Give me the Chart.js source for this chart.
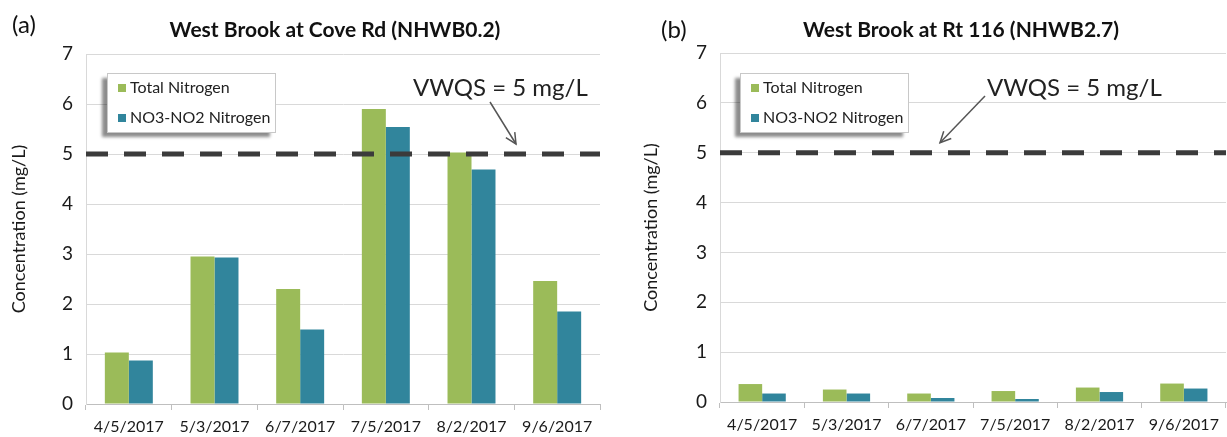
<!DOCTYPE html>
<html>
<head>
<meta charset="utf-8">
<script src="https://cdn.jsdelivr.net/npm/chart.js@4.4.1/dist/chart.umd.min.js"></script>
<style>
  html, body { margin: 0; padding: 0; background: #fff; }
  #wrap { position: relative; width: 1227px; height: 437px; }
  .panel { position: absolute; top: 0; height: 437px; }
  #pa { left: 0; width: 613px; }
  #pb { left: 613px; width: 614px; }
</style>
</head>
<body>
<div id="wrap">
  <div class="panel" id="pa"><canvas id="chartA"></canvas></div>
  <div class="panel" id="pb"><canvas id="chartB"></canvas></div>
</div>
<script>
const dates = ['4/5/2017', '5/3/2017', '6/7/2017', '7/5/2017', '8/2/2017', '9/6/2017'];
const seriesNames = ['Total Nitrogen', 'NO3-NO2 Nitrogen'];

// West Brook at Cove Rd (NHWB0.2)
const coveTotal = [1.03, 2.95, 2.30, 5.90, 5.03, 2.46];
const coveNox = [0.87, 2.93, 1.49, 5.54, 4.69, 1.85];

// West Brook at Rt 116 (NHWB2.7)
const rt116Total = [0.36, 0.25, 0.17, 0.22, 0.29, 0.37];
const rt116Nox = [0.17, 0.17, 0.08, 0.06, 0.20, 0.27];

const vwqs = 5;
const yMax = 7;

const green = '#9BBB59';
const teal = '#31859C';
const font = 'Lato, "Open Sans", sans-serif';

// titles, dashed standard line, note + arrow, legend box
const panelDecor = {
    id: 'panelDecor',
    afterDatasetsDraw(chart, args, o) {
        const { ctx, chartArea } = chart;
        const yv = chart.scales.y.getPixelForValue(o.limit);
        ctx.save();
        ctx.strokeStyle = '#3b3b3b';
        ctx.lineWidth = 5;
        ctx.setLineDash([22, 16]);
        ctx.beginPath();
        ctx.moveTo(chartArea.left, yv);
        ctx.lineTo(chartArea.right, yv);
        ctx.stroke();
        ctx.restore();
    },
    afterDraw(chart, args, o) {
        const { ctx, chartArea } = chart;
        const yv = chart.scales.y.getPixelForValue(o.limit);
        ctx.save();

        // panel letter + title
        ctx.fillStyle = '#111';
        ctx.textBaseline = 'middle';
        ctx.textAlign = 'left';
        ctx.font = '24px ' + font;
        ctx.fillText(o.letter, o.letterX, o.letterY);
        ctx.textAlign = 'center';
        ctx.font = 'bold 21px ' + font;
        ctx.fillText(o.title, (chartArea.left + chartArea.right) / 2 + o.titleShift, 30);

        // VWQS note
        ctx.textAlign = 'left';
        ctx.font = '24px ' + font;
        ctx.fillStyle = '#222';
        ctx.fillText('VWQS = ' + o.limit + ' mg/L', o.noteX, 88);

        // arrow
        const x0 = o.arrowFrom[0], y0 = o.arrowFrom[1];
        const x1 = o.arrowToX, y1 = yv - 10;
        ctx.strokeStyle = '#555';
        ctx.lineWidth = 1.5;
        ctx.beginPath();
        ctx.moveTo(x0, y0);
        ctx.lineTo(x1, y1);
        ctx.stroke();
        const ang = Math.atan2(y1 - y0, x1 - x0);
        ctx.beginPath();
        ctx.moveTo(x1 - 12 * Math.cos(ang - 0.45), y1 - 12 * Math.sin(ang - 0.45));
        ctx.lineTo(x1, y1);
        ctx.lineTo(x1 - 12 * Math.cos(ang + 0.45), y1 - 12 * Math.sin(ang + 0.45));
        ctx.stroke();

        // legend box with shadow
        const lx = o.legendX, ly = 73, lw = 168, lh = 59;
        ctx.save();
        ctx.shadowColor = 'rgba(0,0,0,0.45)';
        ctx.shadowBlur = 3;
        ctx.shadowOffsetX = -5;
        ctx.shadowOffsetY = 5;
        ctx.fillStyle = '#fff';
        ctx.fillRect(lx, ly, lw, lh);
        ctx.restore();
        ctx.strokeStyle = '#c8c8c8';
        ctx.lineWidth = 1;
        ctx.strokeRect(lx + 0.5, ly + 0.5, lw, lh);
        ctx.font = '16px ' + font;
        chart.data.datasets.forEach((ds, i) => {
            const cy = ly + 15 + i * 30;
            ctx.fillStyle = ds.backgroundColor;
            ctx.fillRect(lx + 11, cy - 4, 8, 8);
            ctx.fillStyle = '#222';
            ctx.fillText(ds.label, lx + 23, cy);
        });
        ctx.restore();
    }
};

function makeChart(id, total, nox, pad, yWidth, decor) {
    const canvas = document.getElementById(id);
    return new Chart(canvas, {
        type: 'bar',
        data: {
            labels: dates,
            datasets: [
                { label: seriesNames[0], data: total, backgroundColor: green },
                { label: seriesNames[1], data: nox, backgroundColor: teal }
            ]
        },
        options: {
            responsive: true,
            maintainAspectRatio: false,
            animation: false,
            layout: { padding: pad },
            datasets: { bar: { categoryPercentage: 0.56, barPercentage: 1.0 } },
            plugins: {
                legend: { display: false },
                tooltip: { enabled: false },
                panelDecor: decor
            },
            scales: {
                x: {
                    grid: { drawOnChartArea: false, drawTicks: true, tickLength: 6, color: '#bfbfbf', offset: true },
                    border: { color: '#bfbfbf' },
                    ticks: { color: '#1a1a1a', font: { family: font, size: 16 }, padding: 7, maxRotation: 0 },
                    afterFit: s => { s.height = 33; }
                },
                y: {
                    min: 0,
                    max: yMax,
                    ticks: { stepSize: 1, color: '#1a1a1a', font: { family: font, size: 19 }, padding: 13 },
                    grid: { color: '#d9d9d9', drawTicks: false },
                    border: { color: '#d9d9d9' },
                    title: { display: true, text: 'Concentration (mg/L)', color: '#1a1a1a', font: { family: font, size: 18 }, padding: 0 },
                    afterFit: s => { s.width = yWidth; }
                }
            }
        },
        plugins: [panelDecor]
    });
}

makeChart('chartA', coveTotal, coveNox, { top: 54, left: 8, right: 13, bottom: 0 }, 78, {
    limit: vwqs, letter: '(a)', letterX: 12, letterY: 25,
    title: 'West Brook at Cove Rd (NHWB0.2)', titleShift: -8,
    noteX: 413, arrowFrom: [490, 102], arrowToX: 516, legendX: 107
});

makeChart('chartB', rt116Total, rt116Nox, { top: 53, left: 27, right: 1, bottom: 2 }, 80, {
    limit: vwqs, letter: '(b)', letterX: 48, letterY: 30,
    title: 'West Brook at Rt 116 (NHWB2.7)', titleShift: -12,
    noteX: 374, arrowFrom: [372, 96], arrowToX: 327, legendX: 127
});
</script>
</body>
</html>
